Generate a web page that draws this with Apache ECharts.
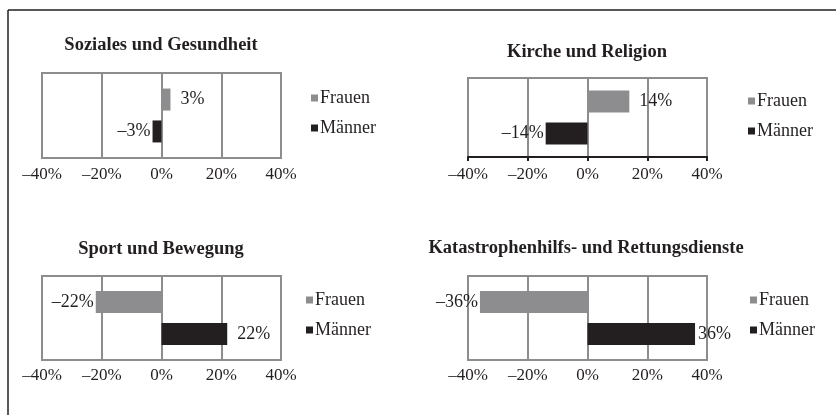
<!DOCTYPE html>
<html>
<head>
<meta charset="utf-8">
<script src="https://cdn.jsdelivr.net/npm/echarts@6/dist/echarts.min.js"></script>
<style>
  html, body { margin: 0; padding: 0; background: #fff; }
  #chart { width: 837px; height: 415px; }
</style>
</head>
<body>
<div id="chart"></div>
<script>
// data
const panelTitles = ['Soziales und Gesundheit', 'Kirche und Religion', 'Sport und Bewegung', 'Katastrophenhilfs- und Rettungsdienste']
const seriesNames = ['Frauen', 'Männer']
const frauenValues = [3, 14, -22, -36]
const maennerValues = [-3, -14, 22, 36]
const axisMin = -40
const axisMax = 40
const axisStep = 20

const font = 'Liberation Serif'
const ink = '#231f20'
const gray = '#8d8d8f'

// layout of the four small charts
const panels = [
  { grid: { left: 42, top: 73, width: 239, height: 85 }, title: { left: 161, top: 36 }, legend: { left: 311, top: 88 }, margin: 8, blackAxis: false },
  { grid: { left: 468, top: 78, width: 239, height: 79 }, title: { left: 587, top: 43 }, legend: { left: 748, top: 91 }, margin: 9, blackAxis: true },
  { grid: { left: 42, top: 276, width: 239, height: 84 }, title: { left: 161, top: 240 }, legend: { left: 306, top: 290 }, margin: 7, blackAxis: false },
  { grid: { left: 468, top: 276, width: 239, height: 84 }, title: { left: 586, top: 239 }, legend: { left: 750, top: 290 }, margin: 7, blackAxis: false }
]

const pct = v => (v < 0 ? '–' + Math.abs(v) : String(v)) + '%'

const valueLabel = {
  show: true,
  fontFamily: font,
  fontSize: 18,
  color: ink,
  formatter: p => pct(p.value)
}

// labels sit outside the bar end; near the edge the gap is smaller
function barData (v) {
  return [{
    value: v,
    label: v < 0 ? { position: 'left', distance: 2 } : { position: 'right', distance: v > 30 ? 3 : 10 }
  }]
}

const option = {
  animation: false,
  backgroundColor: '#fff',
  title: [],
  legend: [],
  grid: [],
  xAxis: [],
  yAxis: [],
  series: [],
  graphic: [
    { type: 'line', shape: { x1: 8, y1: 10, x2: 8, y2: 415 }, style: { stroke: ink, lineWidth: 1.5 } },
    { type: 'line', shape: { x1: 8, y1: 10, x2: 836, y2: 10 }, style: { stroke: ink, lineWidth: 1.5 } }
  ]
}

panels.forEach((p, i) => {
  option.title.push({
    text: panelTitles[i],
    left: p.title.left,
    top: p.title.top,
    textAlign: 'center',
    padding: 0,
    textStyle: { fontFamily: font, fontSize: 18.5, fontWeight: 'bold', color: ink }
  })
  option.legend.push({
    data: seriesNames,
    orient: 'vertical',
    left: p.legend.left,
    top: p.legend.top + 1,
    padding: 0,
    icon: 'rect',
    itemWidth: 7,
    itemHeight: 7,
    itemGap: 12,
    textStyle: { fontFamily: font, fontSize: 18, color: ink, padding: [0, 0, 0, -3] }
  })
  option.grid.push(Object.assign({
    show: true,
    borderColor: gray,
    borderWidth: 2,
    backgroundColor: '#fff'
  }, p.grid))
  option.xAxis.push({
    type: 'value',
    gridIndex: i,
    min: axisMin,
    max: axisMax,
    interval: axisStep,
    axisLine: { show: p.blackAxis, onZero: false, lineStyle: { color: ink, width: 2 } },
    axisTick: { show: p.blackAxis, length: 4, lineStyle: { color: ink, width: 2 } },
    splitLine: { show: true, lineStyle: { color: gray, width: 2 } },
    axisLabel: {
      margin: p.margin,
      fontFamily: font,
      fontSize: 17,
      color: ink,
      formatter: pct
    }
  })
  option.yAxis.push({
    type: 'category',
    gridIndex: i,
    inverse: true,
    data: [''],
    axisLine: { show: false },
    axisTick: { show: false },
    axisLabel: { show: false },
    splitLine: { show: false }
  })
  option.series.push({
    name: seriesNames[0],
    type: 'bar',
    xAxisIndex: i,
    yAxisIndex: i,
    barWidth: 22,
    barGap: '45%',
    itemStyle: { color: gray },
    label: valueLabel,
    data: barData(frauenValues[i])
  })
  option.series.push({
    name: seriesNames[1],
    type: 'bar',
    xAxisIndex: i,
    yAxisIndex: i,
    barWidth: 22,
    barGap: '45%',
    itemStyle: { color: ink },
    label: valueLabel,
    data: barData(maennerValues[i])
  })
})

const chart = echarts.init(document.getElementById('chart'))
chart.setOption(option)
window.addEventListener('resize', () => chart.resize())
</script>
</body>
</html>
